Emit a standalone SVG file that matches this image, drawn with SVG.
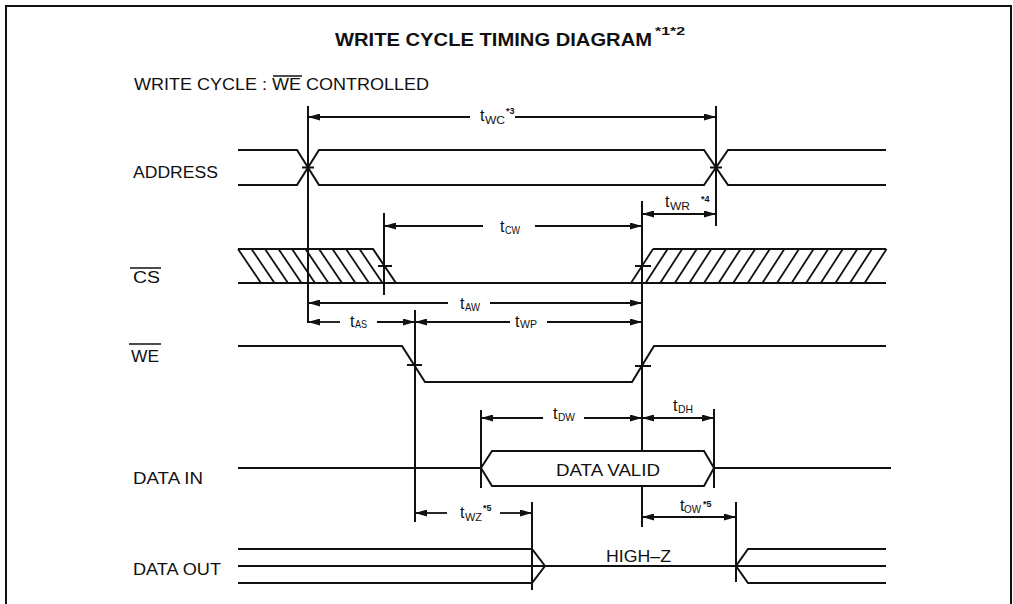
<svg xmlns="http://www.w3.org/2000/svg" width="1013" height="604" viewBox="0 0 1013 604">
<style>
.sig{fill:none;stroke:#111;stroke-width:2;stroke-linejoin:miter}
.hat{stroke:#111;stroke-width:1.8}
.vl{stroke:#111;stroke-width:2}
.dim{stroke:#111;stroke-width:1.8;fill:none}
.ds{marker-start:url(#ah)}
.de{marker-end:url(#ah)}
.lbl{font-family:"Liberation Sans",Arial,sans-serif;font-size:16px;fill:#111}
.t{font-family:"Liberation Sans",Arial,sans-serif;font-size:16px;fill:#111}
.sub{font-family:"Liberation Sans",Arial,sans-serif;font-size:10.5px;fill:#111}
.sup{font-family:"Liberation Sans",Arial,sans-serif;font-size:9px;font-weight:bold;fill:#111}
</style>
<defs>
<marker id="ah" markerUnits="userSpaceOnUse" markerWidth="12" markerHeight="7" refX="12" refY="3.5" orient="auto-start-reverse">
<path d="M0,0 L12,3.5 L0,7 z" fill="#111"/>
</marker>
</defs>
<rect x="0" y="0" width="1013" height="604" fill="#fff"/>
<rect x="6" y="6" width="1005" height="620" fill="none" stroke="#111" stroke-width="2"/>

<g id="title">
<text x="335" y="46" font-family="Liberation Sans,Arial,sans-serif" font-size="18" font-weight="bold" fill="#111" textLength="317" lengthAdjust="spacingAndGlyphs">WRITE CYCLE TIMING DIAGRAM</text>
<text x="655" y="35" font-family="Liberation Sans,Arial,sans-serif" font-size="10" font-weight="bold" fill="#111" textLength="30" lengthAdjust="spacingAndGlyphs">*1*2</text>
</g>
<g id="subtitle">
<text class="lbl" x="134" y="90" textLength="295" lengthAdjust="spacingAndGlyphs">WRITE CYCLE : WE CONTROLLED</text>
<line x1="273" y1="76" x2="302" y2="76" stroke="#111" stroke-width="1.5"/>
</g>

<g id="address">
<text class="lbl" x="133" y="178" textLength="85" lengthAdjust="spacingAndGlyphs">ADDRESS</text>
<polyline class="sig" points="238,150 297,150 319,185 704,185 728,150 886,150"/>
<polyline class="sig" points="238,185 297,185 319,150 704,150 728,185 886,185"/>
<line class="vl" x1="302" y1="167.5" x2="314" y2="167.5"/>
<line class="vl" x1="710" y1="167.5" x2="722" y2="167.5"/>
</g>

<g id="cs">
<text class="lbl" x="133" y="283" textLength="27" lengthAdjust="spacingAndGlyphs">CS</text>
<line x1="130" y1="268" x2="161" y2="268" stroke="#111" stroke-width="1.5"/>
<polyline class="sig" points="238,249 373,249 396,283"/>
<line class="sig" x1="238" y1="283" x2="886" y2="283"/>
<line class="sig" x1="653" y1="249" x2="886" y2="249"/>
<g class="hat">
<line x1="238" y1="249" x2="261" y2="283"/>
<line x1="251.5" y1="249" x2="274.5" y2="283"/>
<line x1="265" y1="249" x2="288" y2="283"/>
<line x1="278.5" y1="249" x2="301.5" y2="283"/>
<line x1="292" y1="249" x2="315" y2="283"/>
<line x1="305.5" y1="249" x2="328.5" y2="283"/>
<line x1="319" y1="249" x2="342" y2="283"/>
<line x1="332.5" y1="249" x2="355.5" y2="283"/>
<line x1="346" y1="249" x2="369" y2="283"/>
<line x1="359.5" y1="249" x2="382.5" y2="283"/>
<line x1="631" y1="283" x2="653" y2="249"/>
<line x1="645.6" y1="283" x2="667.6" y2="249"/>
<line x1="660.2" y1="283" x2="682.2" y2="249"/>
<line x1="674.8" y1="283" x2="696.8" y2="249"/>
<line x1="689.4" y1="283" x2="711.4" y2="249"/>
<line x1="704" y1="283" x2="726" y2="249"/>
<line x1="718.6" y1="283" x2="740.6" y2="249"/>
<line x1="733.2" y1="283" x2="755.2" y2="249"/>
<line x1="747.8" y1="283" x2="769.8" y2="249"/>
<line x1="762.4" y1="283" x2="784.4" y2="249"/>
<line x1="777" y1="283" x2="799" y2="249"/>
<line x1="791.6" y1="283" x2="813.6" y2="249"/>
<line x1="806.2" y1="283" x2="828.2" y2="249"/>
<line x1="820.8" y1="283" x2="842.8" y2="249"/>
<line x1="835.4" y1="283" x2="857.4" y2="249"/>
<line x1="850" y1="283" x2="872" y2="249"/>
<line x1="864.6" y1="283" x2="886.6" y2="249"/>
</g>
<line class="vl" x1="378" y1="266" x2="392" y2="266"/>
<line class="vl" x1="635" y1="266" x2="651" y2="266"/>
</g>

<g id="we">
<text class="lbl" x="131" y="362" textLength="28" lengthAdjust="spacingAndGlyphs">WE</text>
<line x1="129" y1="344" x2="161" y2="344" stroke="#111" stroke-width="1.5"/>
<polyline class="sig" points="238,346 402,346 425,382 632,382 654,346 886,346"/>
<line class="vl" x1="407" y1="365" x2="422" y2="365"/>
<line class="vl" x1="635" y1="366" x2="651" y2="366"/>
</g>

<g id="datain">
<text class="lbl" x="133" y="484" textLength="70" lengthAdjust="spacingAndGlyphs">DATA IN</text>
<line class="sig" x1="238" y1="468" x2="481" y2="468"/>
<polygon class="sig" points="481,468 492,451 704,451 714,468 704,486 492,486"/>
<line class="sig" x1="714" y1="468" x2="891" y2="468"/>
<text class="lbl" x="556" y="476" textLength="104" lengthAdjust="spacingAndGlyphs">DATA VALID</text>
</g>

<g id="dataout">
<text class="lbl" x="133" y="575" textLength="88" lengthAdjust="spacingAndGlyphs">DATA OUT</text>
<polyline class="sig" points="238,549 532,549 545,566 532,583 238,583"/>
<line class="sig" x1="238" y1="566" x2="886" y2="566"/>
<polyline class="sig" points="886,549 748,549 736,566 748,583 886,583"/>
<text class="lbl" x="606" y="562" textLength="65" lengthAdjust="spacingAndGlyphs">HIGH–Z</text>
</g>

<g id="connectors">
<line class="vl" x1="308" y1="106" x2="308" y2="323"/>
<line class="vl" x1="716" y1="106" x2="716" y2="226"/>
<line class="vl" x1="384" y1="213" x2="384" y2="295"/>
<line class="vl" x1="642" y1="201" x2="642" y2="451"/>
<line class="vl" x1="642" y1="486" x2="642" y2="527"/>
<line class="vl" x1="415" y1="310" x2="415" y2="522"/>
<line class="vl" x1="481" y1="410" x2="481" y2="488"/>
<line class="vl" x1="714" y1="409" x2="714" y2="488"/>
<line class="vl" x1="532" y1="502" x2="532" y2="590"/>
<line class="vl" x1="736" y1="502" x2="736" y2="582"/>

<line class="dim ds" x1="308" y1="117" x2="470" y2="117"/>
<line class="dim de" x1="515" y1="117" x2="716" y2="117"/>
<line class="dim ds" x1="384" y1="226" x2="483" y2="226"/>
<line class="dim de" x1="535" y1="226" x2="642" y2="226"/>
<line class="dim ds de" x1="642" y1="214" x2="716" y2="214"/>
<line class="dim ds" x1="308" y1="303" x2="448" y2="303"/>
<line class="dim de" x1="490" y1="303" x2="642" y2="303"/>
<line class="dim ds" x1="308" y1="322" x2="340" y2="322"/>
<line class="dim de" x1="377" y1="322" x2="415" y2="322"/>
<line class="dim ds" x1="415" y1="322" x2="510" y2="322"/>
<line class="dim de" x1="547" y1="322" x2="642" y2="322"/>
<line class="dim ds" x1="481" y1="418" x2="543" y2="418"/>
<line class="dim de" x1="584" y1="418" x2="642" y2="418"/>
<line class="dim ds de" x1="642" y1="418" x2="714" y2="418"/>
<line class="dim ds" x1="415" y1="513" x2="447" y2="513"/>
<line class="dim de" x1="500" y1="513" x2="532" y2="513"/>
<line class="dim ds de" x1="642" y1="517" x2="736" y2="517"/>
</g>

<g id="timing-labels">
<text class="t" x="480" y="121">t</text><text class="sub" x="485" y="124" textLength="20" lengthAdjust="spacingAndGlyphs">WC</text><text class="sup" x="506" y="114">*3</text>
<text class="t" x="500" y="232">t</text><text class="sub" x="505" y="234" textLength="15" lengthAdjust="spacingAndGlyphs">CW</text>
<text class="t" x="665" y="207">t</text><text class="sub" x="670" y="210" textLength="20" lengthAdjust="spacingAndGlyphs">WR</text><text class="sup" x="701" y="202">*4</text>
<text class="t" x="460" y="309">t</text><text class="sub" x="465" y="311" textLength="15" lengthAdjust="spacingAndGlyphs">AW</text>
<text class="t" x="350" y="327">t</text><text class="sub" x="355" y="328" textLength="12" lengthAdjust="spacingAndGlyphs">AS</text>
<text class="t" x="515" y="327">t</text><text class="sub" x="520" y="328" textLength="17" lengthAdjust="spacingAndGlyphs">WP</text>
<text class="t" x="553" y="419">t</text><text class="sub" x="558" y="421" textLength="17" lengthAdjust="spacingAndGlyphs">DW</text>
<text class="t" x="673" y="411">t</text><text class="sub" x="678" y="413" textLength="15" lengthAdjust="spacingAndGlyphs">DH</text>
<text class="t" x="460" y="518">t</text><text class="sub" x="465" y="521" textLength="17" lengthAdjust="spacingAndGlyphs">WZ</text><text class="sup" x="483" y="511">*5</text>
<text class="t" x="680" y="511">t</text><text class="sub" x="684" y="513" textLength="17" lengthAdjust="spacingAndGlyphs">OW</text><text class="sup" x="703" y="507">*5</text>
</g>
</svg>
